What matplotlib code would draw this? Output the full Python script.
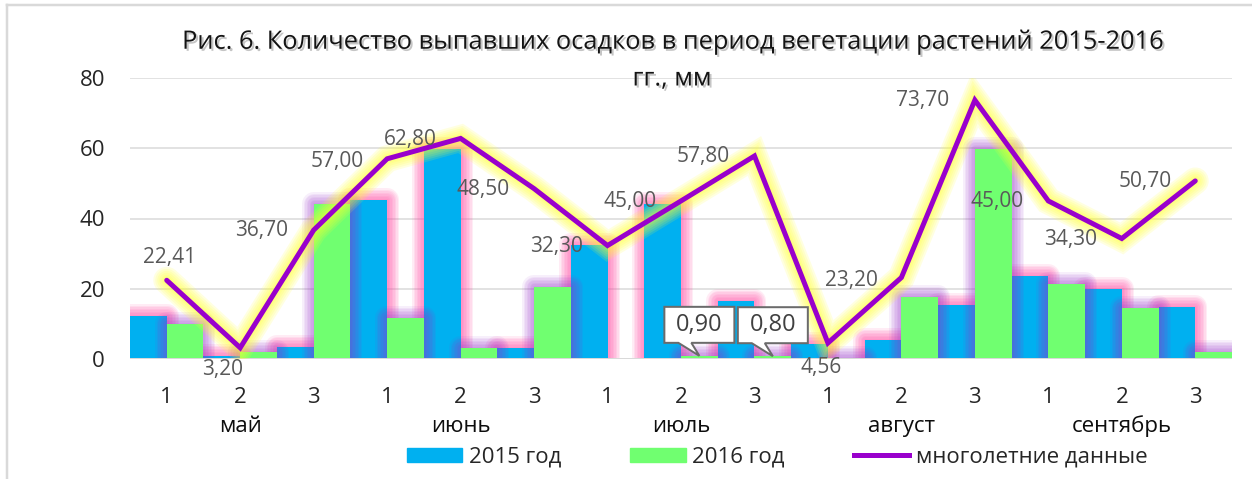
import matplotlib
matplotlib.use("Agg")
import matplotlib.pyplot as plt
import matplotlib.patheffects as pe
import matplotlib.transforms as mtransforms
from matplotlib.patches import Rectangle, Polygon, Patch
from matplotlib.lines import Line2D

plt.rcParams['font.family'] = ['Open Sans', 'DejaVu Sans']

# Decades (1-3) within each month of the growing season
decades = ['1', '2', '3'] * 5
months = ['май', 'июнь', 'июль', 'август', 'сентябрь']
rain_2015 = [12.2, 0.9, 3.4, 45.3, 59.8, 3.1, 32.4, 44.2, 16.5, 4.3, 5.4, 15.4, 23.6, 19.9, 14.8]
rain_2016 = [10.0, 2.0, 44.2, 11.7, 3.1, 20.5, 0.0, 0.90, 0.80, 0.4, 17.7, 59.8, 21.4, 14.5, 2.0]
long_term = [22.41, 3.20, 36.70, 57.00, 62.80, 48.50, 32.30, 45.00, 57.80, 4.56,
             23.20, 73.70, 45.00, 34.30, 50.70]
callout_idx = [7, 8]          # 2016 bars annotated with callout boxes

title_1 = 'Рис. 6. Количество выпавших осадков в период вегетации растений 2015-2016'
title_2 = 'гг., мм'

C_BLUE = '#00B0F0'
C_GREEN = '#70FF70'
C_LINE = '#9900CC'
C_GRID = '#D9D9D9'
C_LABEL = '#595959'

W, H, DPI = 1252, 479, 100
fig = plt.figure(figsize=(W / DPI, H / DPI), dpi=DPI)
ax = fig.add_axes([130 / W, 120 / H, 1102 / W, 281 / H])

n = len(long_term)
xs = list(range(n))
bw = 0.5
px2pt = 72 / DPI


def glow(x0, width, height, color, reach_px, steps, alpha, z):
    """Soft halo around a bar: stacked transparent outlines of growing width."""
    if height <= 0:
        return
    for k in range(steps):
        lw = 2 * reach_px * (k + 1) / steps * px2pt
        ax.add_patch(Rectangle((x0, 0), width, height, fill=False, ec=color,
                               lw=lw, alpha=alpha, joinstyle='round', zorder=z))


# 2015 bars with pink halo
for x, v in zip(xs, rain_2015):
    glow(x - bw, bw, v, '#FF4DA6', 12, 8, 0.105, 1)
ax.bar([x - bw / 2 for x in xs], rain_2015, width=bw, color=C_BLUE, zorder=2)

# 2016 bars with violet halo (drawn over the neighbouring 2015 bars)
for x, v in zip(xs, rain_2016):
    glow(x, bw, v, '#9933CC', 12, 8, 0.08, 3)
ax.bar([x + bw / 2 for x in xs], rain_2016, width=bw, color=C_GREEN, zorder=4)

# Long-term average line with a yellow halo
halo = [pe.Stroke(linewidth=(5 + 2 * r) * px2pt, foreground='#FFFF30', alpha=0.14)
        for r in (11, 9, 7, 5, 3, 1.5)]
ax.plot(xs, long_term, color=C_LINE, lw=5 * px2pt, solid_joinstyle='miter',
        solid_capstyle='round', zorder=6, path_effects=halo + [pe.Normal()])

# Value labels of the long-term line (offsets in pixels)
label_offsets = [(3, 23), (-18, -22), (-52, 0), (-50, -3), (-50, -1), (-51, -1),
                 (-51, -1), (-51, -1), (-51, -1), (-7, -25), (-50, -3), (-52, 0),
                 (-51, -1), (-51, -1), (-50, -1)]
for x, v, off in zip(xs, long_term, label_offsets):
    ax.annotate(f'{v:.2f}'.replace('.', ','), (x, v), xytext=off,
                textcoords='offset pixels', ha='center', va='center',
                fontsize=15, color=C_LABEL, zorder=8)

# Callout boxes for the tiny 2016 values
shape = [(-35, 13), (-21, 13), (0, 0), (-8, 13), (35, 13), (35, 49), (-35, 49)]
for i in callout_idx:
    v = rain_2016[i]
    anchor = mtransforms.ScaledTranslation(i + bw / 2, v, ax.transData)
    tr = mtransforms.Affine2D() + anchor
    ax.add_patch(Polygon(shape, closed=True, transform=tr, fc='white', ec='#6B6B6B',
                         lw=2 * px2pt, zorder=9, clip_on=False))
    ax.annotate(f'{v:.2f}'.replace('.', ','), (i + bw / 2, v), xytext=(0, 31),
                textcoords='offset pixels', ha='center', va='center',
                fontsize=17, color='#404040', zorder=10, annotation_clip=False)

# Axes styling
ax.set_xlim(-0.5, n - 0.5)
ax.set_ylim(0, 80)
ax.set_yticks([0, 20, 40, 60, 80])
ax.yaxis.grid(True, color=C_GRID, lw=1.5 * px2pt, zorder=0)
ax.set_axisbelow(True)
for s in ax.spines.values():
    s.set_visible(False)
ax.axhline(0, color=C_GRID, lw=2 * px2pt, zorder=5)
ax.tick_params(axis='y', length=0, pad=18, labelsize=16, labelcolor='#262626')
ax.set_xticks(xs)
ax.set_xticklabels(decades)
ax.tick_params(axis='x', length=0, pad=20, labelsize=16, labelcolor='#262626')

# Month names under the middle decade of each month
btr = mtransforms.blended_transform_factory(ax.transData, ax.transAxes)
for m, name in enumerate(months):
    ax.text(3 * m + 1, -0.24, name, transform=btr, ha='center', va='center',
            fontsize=16, color='#0D0D0D')

# Title with a soft shadow
shadow = [pe.withSimplePatchShadow(offset=(1.5, -1.5), shadow_rgbFace='#7F7F7F', alpha=0.45)]
fig.text(672 / W, 1 - 42 / H, title_1, ha='center', va='center', fontsize=18.3,
         color='#141414', path_effects=shadow)
fig.text(672 / W, 1 - 79 / H, title_2, ha='center', va='center', fontsize=18.3,
         color='#141414', path_effects=shadow)

# Legend
handles = [Patch(color=C_BLUE), Patch(color=C_GREEN),
           Line2D([], [], color=C_LINE, lw=5 * px2pt)]
fig.legend(handles, ['2015 год', '2016 год', 'многолетние данные'],
           loc='center', bbox_to_anchor=(777 / W, 22 / H), ncol=3, frameon=False,
           fontsize=16, handlelength=2.5, handleheight=0.6, handletextpad=0.3,
           columnspacing=3.1, labelcolor='#262626')

# Chart area frame (left and top edges)
fig.add_artist(Line2D([7 / W, 7 / W], [0, 1 - 5 / H], color=C_GRID, lw=2.5 * px2pt))
fig.add_artist(Line2D([7 / W, 1], [1 - 5 / H, 1 - 5 / H], color=C_GRID, lw=2.5 * px2pt))

fig.savefig('out.png', dpi=DPI)
